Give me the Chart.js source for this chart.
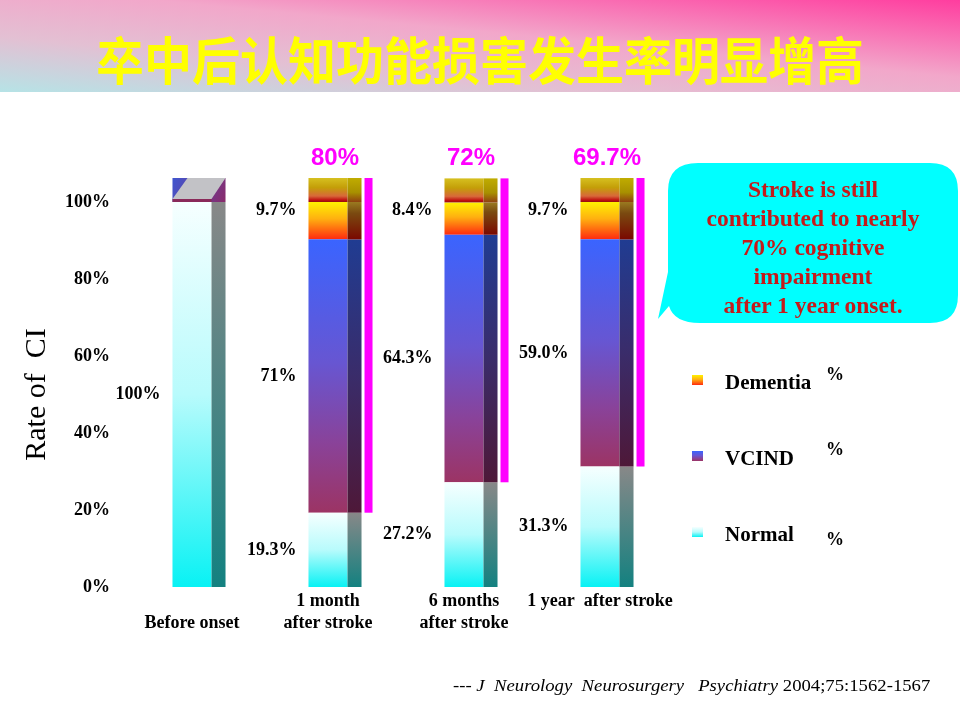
<!DOCTYPE html>
<html>
<head>
<meta charset="utf-8">
<script src="https://cdn.jsdelivr.net/npm/chart.js@4.4.1/dist/chart.umd.min.js"></script>
<style>
  html, body { margin: 0; padding: 0; background: #fff; }
  body { width: 960px; height: 720px; position: relative; overflow: hidden; }
  #banner {
    position: absolute; left: 0; top: 0; width: 960px; height: 92px;
    background: linear-gradient(to top right, #b6e3e6 0%, #e3c0d3 30%, #f2a7ca 58%, #ff3d9f 100%);
  }
  #banner h1 {
    position: absolute; left: 0; top: 29px; width: 960px; margin: 0;
    font: bold 48px "Noto Sans CJK SC"; line-height: 58px;
    color: #ffff00; text-align: center;
    transform: scaleY(1.06);
  }
  #myChart { position: absolute; left: 0; top: 0; }
  #bubble { position: absolute; left: 0; top: 0; }
  #bubbleText {
    position: absolute; left: 668px; top: 175px; width: 290px;
    font: bold 23.5px "Liberation Serif", "Times New Roman", serif; line-height: 29px;
    color: #c41a1a; text-align: center;
  }
  #cite {
    position: absolute; left: 453px; top: 675px; white-space: nowrap;
    font: 17px "Liberation Serif", "Times New Roman", serif; line-height: 22px;
    transform-origin: left center; transform: scaleX(1.1);
  }
</style>
</head>
<body>
<div id="banner"><h1>卒中后认知功能损害发生率明显增高</h1></div>
<canvas id="myChart" width="960" height="720"></canvas>
<svg id="bubble" width="960" height="720">
  <path d="M 698 163 H 930 Q 958 163 958 191 V 295 Q 958 323 930 323 H 700 Q 674 323 669 306 L 658 319 L 668 272 V 191 Q 668 163 698 163 Z" fill="#00ffff"/>
</svg>
<div id="bubbleText">Stroke is still<br>contributed to nearly<br>70% cognitive<br>impairment<br>after 1 year onset.</div>
<div id="cite">--- <i>J&nbsp; Neurology&nbsp; Neurosurgery&nbsp;&nbsp; Psychiatry</i> 2004;75:1562-1567</div>
<script>
// Chart data
const categories = [['', 'Before onset'], ['1 month', 'after stroke'], ['6 months', 'after stroke'], ['1 year  after stroke']];
const normalValues = [100, 19.3, 27.2, 31.3];
const vcindValues = [0, 71, 64.3, 59.0];
const dementiaValues = [0, 9.7, 8.4, 9.7];
const normalLabels = ['100%', '19.3%', '27.2%', '31.3%'];
const vcindLabels = ['', '71%', '64.3%', '59.0%'];
const dementiaLabels = ['', '9.7%', '8.4%', '9.7%'];
const impairedLabels = ['', '80%', '72%', '69.7%'];
const yTicks = [0, 20, 40, 60, 80, 100];
const seriesNames = ['Normal', 'VCIND', 'Dementia'];

const serif = '"Liberation Serif", "Times New Roman", serif';
const seriesValues = [normalValues, vcindValues, dementiaValues];
const seriesLabels = [normalLabels, vcindLabels, dementiaLabels];

// Front and side face colours, top to bottom
const frontStops = [
    [[0, '#f6ffff'], [0.5, '#b8fbfc'], [1, '#08f2f4']],
    [[0, '#3a64ff'], [0.45, '#6756d2'], [0.75, '#8a4298'], [1, '#9c3464']],
    [[0, '#fff200'], [0.45, '#ffb010'], [1, '#ff2a10']]
];
const sideStops = [
    [[0, '#888888'], [1, '#138180']],
    [[0, '#203c92'], [0.5, '#3a2c6a'], [1, '#4e1838']],
    [[0, '#9a7a20'], [0.3, '#7a4a10'], [1, '#7a0800']]
];
const depth = 14;
const capHeight = 24;

function makeGradient(ctx, top, bottom, stops) {
    const g = ctx.createLinearGradient(0, top, 0, Math.max(bottom, top + 1));
    stops.forEach(s => g.addColorStop(s[0], s[1]));
    return g;
}

function frontColor(d) {
    return (context) => {
        const chart = context.chart;
        const y = chart.scales.y;
        if (context.type !== 'data' || !chart.chartArea || !y) return frontStops[d][0][1];
        const i = context.dataIndex;
        let start = 0;
        for (let k = 0; k < d; k++) start += seriesValues[k][i];
        const top = y.getPixelForValue(start + seriesValues[d][i]);
        const bottom = y.getPixelForValue(start);
        return makeGradient(chart.ctx, top, bottom, frontStops[d]);
    };
}

// Side faces, top caps, value labels and magenta brackets
const barDecor = {
    id: 'barDecor',
    afterDatasetsDraw(chart) {
        const c = chart.ctx;
        const metas = seriesNames.map((n, d) => chart.getDatasetMeta(d));
        c.save();
        categories.forEach((cat, i) => {
            let topD = -1;
            metas.forEach((meta, d) => {
                const el = meta.data[i];
                if (el.base - el.y < 0.5) return;
                topD = d;
                const right = el.x + el.width / 2;
                c.fillStyle = makeGradient(c, el.y, el.base, sideStops[d]);
                c.fillRect(right, el.y, depth, el.base - el.y);
            });
            const topEl = metas[topD].data[i];
            const left = topEl.x - topEl.width / 2;
            const right = topEl.x + topEl.width / 2;
            const capTop = topEl.y - capHeight;
            if (topD === 0) {
                // flat grey lid
                const g = c.createLinearGradient(left, capTop, right + depth, topEl.y);
                g.addColorStop(0, '#3f56d0');
                g.addColorStop(1, '#8a2a6a');
                c.fillStyle = g;
                c.fillRect(left, capTop, right + depth - left, capHeight);
                c.fillStyle = '#c2c2c6';
                c.beginPath();
                c.moveTo(left + 15, capTop);
                c.lineTo(right + depth, capTop);
                c.lineTo(right, topEl.y - 3);
                c.lineTo(left, topEl.y - 3);
                c.closePath();
                c.fill();
                c.fillStyle = '#8a2a5a';
                c.fillRect(left, topEl.y - 3, right - left, 3);
            } else {
                c.fillStyle = makeGradient(c, capTop, topEl.y,
                    [[0, '#d6c020'], [0.4, '#c49e08'], [0.75, '#d8683a'], [0.92, '#c01010'], [1, '#901010']]);
                c.fillRect(left, capTop, right - left, capHeight);
                c.fillStyle = makeGradient(c, capTop, topEl.y,
                    [[0, '#c0ac00'], [0.6, '#a89000'], [1, '#904010']]);
                c.fillRect(right, capTop, depth, capHeight);
            }

            // magenta bracket over the impaired part
            if (impairedLabels[i]) {
                const normalTop = metas[0].data[i].y;
                c.fillStyle = '#ff00ff';
                c.fillRect(right + depth + 3, capTop, 8, normalTop - capTop);
                c.font = 'bold 24px "Liberation Sans", Arial, sans-serif';
                c.textAlign = 'center';
                c.textBaseline = 'middle';
                c.fillText(impairedLabels[i], topEl.x + depth / 2, capTop - 20);
            }

            // value labels at the left of each segment
            c.fillStyle = '#000';
            c.font = 'bold 18px ' + serif;
            c.textAlign = 'right';
            c.textBaseline = 'middle';
            metas.forEach((meta, d) => {
                const text = seriesLabels[d][i];
                if (!text) return;
                const el = meta.data[i];
                const ly = d === 2 ? el.y + 8 : (el.y + el.base) / 2;
                c.fillText(text, el.x - el.width / 2 - 12, ly);
            });
        });
        c.restore();
    }
};

// Legend at the right, top series first
const sideLegend = {
    id: 'sideLegend',
    afterDraw(chart) {
        const c = chart.ctx;
        const pctDy = [-5, -6, 8];
        c.save();
        [2, 1, 0].forEach((d, k) => {
            const cy = 380 + k * 76;
            c.fillStyle = makeGradient(c, cy - 5, cy + 5, frontStops[d]);
            c.fillRect(692, cy - 5, 11, 10);
            c.fillStyle = '#000';
            c.font = 'bold 21px ' + serif;
            c.textAlign = 'left';
            c.textBaseline = 'middle';
            c.fillText(chart.data.datasets[d].label, 725, cy + 4);
            c.font = 'bold 18px ' + serif;
            c.fillText('%', 826, cy + pctDy[k]);
        });
        c.restore();
    }
};

const ctx = document.getElementById('myChart').getContext('2d');
const myChart = new Chart(ctx, {
    type: 'bar',
    data: {
        labels: categories,
        datasets: seriesNames.map((name, d) => ({
            label: name,
            data: seriesValues[d],
            backgroundColor: frontColor(d),
            borderWidth: 0,
            barPercentage: 0.287,
            categoryPercentage: 1
        }))
    },
    options: {
        responsive: false,
        animation: false,
        layout: { padding: { left: 0, top: 202, right: 292, bottom: 0 } },
        plugins: {
            legend: { display: false },
            tooltip: { enabled: false }
        },
        scales: {
            x: {
                stacked: true,
                grid: { display: false, drawTicks: false },
                border: { display: false },
                ticks: {
                    color: '#000',
                    font: { family: serif, size: 18, weight: 'bold', lineHeight: 1.22 },
                    padding: 3,
                    maxRotation: 0,
                    autoSkip: false
                },
                afterFit: (s) => { s.height = 133; s.paddingLeft = 0; s.paddingRight = 0; }
            },
            y: {
                stacked: true,
                min: 0,
                max: 100,
                grid: { display: false, drawTicks: false },
                border: { display: false },
                afterBuildTicks: (s) => { s.ticks = yTicks.map(v => ({ value: v })); },
                ticks: {
                    color: '#000',
                    font: { family: serif, size: 18, weight: 'bold' },
                    padding: 14,
                    callback: (v) => v + '%'
                },
                title: {
                    display: true,
                    text: 'Rate of  CI',
                    color: '#000',
                    font: { family: serif, size: 30, lineHeight: 1 },
                    padding: { top: 22, bottom: 0 }
                },
                afterFit: (s) => { s.width = 124; s.paddingTop = 0; s.paddingBottom = 0; }
            }
        }
    },
    plugins: [barDecor, sideLegend]
});
</script>
</body>
</html>
